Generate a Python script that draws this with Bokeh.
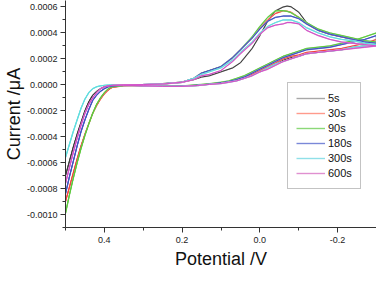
from bokeh.plotting import figure
from bokeh.models import Range1d, FixedTicker, PrintfTickFormatter, Legend, LegendItem
from bokeh.embed import file_html
from bokeh.resources import INLINE

labels = ["5s", "30s", "90s", "180s", "300s", "600s"]
colors = ["#3a3a3a", "#f04040", "#5cc83c", "#4050c0", "#60dede", "#d050c8"]
legend_colors = ["#a8a8a8", "#ff9a8c", "#8cd878", "#7a88d8", "#90e0e8", "#e090d0"]

# steep cathodic region near +0.5 V
x_left = [0.50, 0.49, 0.48, 0.47, 0.46, 0.45, 0.44, 0.43, 0.42, 0.41, 0.40, 0.39, 0.38]
left_5s = [-0.00070, -0.00059, -0.00048, -0.00038, -0.00029, -0.00020, -0.00013, -0.00008, -0.00005, -0.00003, -0.000015, -0.000008, -0.000004]
left_30s = [-0.00090, -0.00079, -0.00068, -0.00057, -0.00047, -0.00038, -0.00030, -0.00022, -0.00016, -0.00011, -0.00007, -0.00004, -0.00002]
left_90s = [-0.00099, -0.00085, -0.00072, -0.00060, -0.00049, -0.00039, -0.00030, -0.00022, -0.00015, -0.00010, -0.00006, -0.00003, -0.000015]
left_180s = [-0.00084, -0.00071, -0.00059, -0.00047, -0.00036, -0.00027, -0.00019, -0.00012, -0.00008, -0.00005, -0.00003, -0.000015, -0.000008]
left_300s = [-0.00056, -0.00046, -0.00036, -0.00027, -0.00018, -0.00011, -0.00006, -0.00003, -0.000015, -0.000008, -0.000004, -0.000002, 0.0]
left_600s = [-0.00076, -0.00064, -0.00052, -0.00041, -0.00031, -0.00022, -0.00015, -0.00010, -0.00006, -0.00003, -0.000015, -0.000008, -0.000004]

# branch with the peak
x_up = [0.35, 0.30, 0.25, 0.20, 0.17, 0.15, 0.13, 0.10, 0.07, 0.05, 0.02, 0.0, -0.02, -0.04, -0.06, -0.07, -0.08, -0.10, -0.12, -0.15, -0.18, -0.21, -0.24, -0.27, -0.30]
up_5s = [0.0, 0.000002, 0.000006, 0.00002, 0.00004, 0.00006, 0.00007, 0.00010, 0.00013, 0.00017, 0.00028, 0.00038, 0.00049, 0.00057, 0.00060, 0.000607, 0.000602, 0.00056, 0.00048, 0.00042, 0.00039, 0.00037, 0.00035, 0.00033, 0.00032]
up_30s = [-0.000008, -0.000002, 0.000008, 0.00002, 0.00005, 0.00009, 0.00011, 0.00014, 0.00021, 0.00027, 0.00036, 0.00044, 0.00050, 0.00055, 0.00057, 0.000568, 0.00056, 0.00052, 0.00047, 0.00042, 0.00039, 0.00037, 0.00035, 0.00033, 0.00032]
up_90s = [-0.000006, -0.000001, 0.000008, 0.00002, 0.00005, 0.00009, 0.00011, 0.00014, 0.00021, 0.00027, 0.00037, 0.00045, 0.00052, 0.00057, 0.000572, 0.000566, 0.000556, 0.00052, 0.00048, 0.00043, 0.00040, 0.00038, 0.00036, 0.00034, 0.00033]
up_180s = [-0.000003, 0.000001, 0.000008, 0.00002, 0.00005, 0.00009, 0.00011, 0.00014, 0.00021, 0.00027, 0.00036, 0.00043, 0.00049, 0.00052, 0.00053, 0.00053, 0.00053, 0.00051, 0.00047, 0.00042, 0.00039, 0.00037, 0.00035, 0.00033, 0.00032]
up_300s = [0.0, 0.000002, 0.000007, 0.00002, 0.00005, 0.00008, 0.00010, 0.00013, 0.00019, 0.00025, 0.00033, 0.00040, 0.00045, 0.00048, 0.00050, 0.00050, 0.00050, 0.00048, 0.00044, 0.00040, 0.00037, 0.00035, 0.00034, 0.00032, 0.00031]
up_600s = [0.0, 0.000002, 0.000006, 0.00002, 0.00004, 0.00007, 0.00008, 0.00011, 0.00018, 0.00024, 0.00032, 0.00039, 0.00044, 0.00046, 0.00047, 0.00048, 0.00048, 0.00047, 0.00042, 0.00038, 0.00035, 0.00033, 0.00032, 0.00031, 0.00030]

# return branch
x_low = [-0.30, -0.27, -0.24, -0.21, -0.18, -0.15, -0.12, -0.10, -0.08, -0.06, -0.04, -0.02, 0.0, 0.02, 0.04, 0.06, 0.08, 0.10, 0.13, 0.16, 0.20, 0.25, 0.30, 0.35]
low_5s = [0.00031, 0.00030, 0.00029, 0.00027, 0.00026, 0.00025, 0.00024, 0.00022, 0.00021, 0.00019, 0.00016, 0.00013, 0.00010, 0.00008, 0.00005, 0.00004, 0.000025, 0.000015, 0.000005, -0.000005, -0.000012, -0.000012, -0.000007, -0.000003]
low_30s = [0.00035, 0.00032, 0.00030, 0.00028, 0.00027, 0.00026, 0.00025, 0.00023, 0.00022, 0.00020, 0.00017, 0.00014, 0.00011, 0.00008, 0.00006, 0.00004, 0.000025, 0.000015, 0.000005, -0.000003, -0.00001, -0.000012, -0.000007, -0.000005]
low_90s = [0.00040, 0.00037, 0.00034, 0.00032, 0.00030, 0.00029, 0.00028, 0.00026, 0.00024, 0.00022, 0.00019, 0.00016, 0.00013, 0.00010, 0.00007, 0.00005, 0.00003, 0.00002, 0.000008, 0.0, -0.000008, -0.00001, -0.000006, -0.000003]
low_180s = [0.00038, 0.00035, 0.00033, 0.00031, 0.00029, 0.00028, 0.00027, 0.00025, 0.00023, 0.00021, 0.00018, 0.00015, 0.00012, 0.00009, 0.00006, 0.00004, 0.000025, 0.000015, 0.000005, -0.000003, -0.00001, -0.000012, -0.000007, -0.000003]
low_300s = [0.00031, 0.00030, 0.00029, 0.00027, 0.00026, 0.00025, 0.00024, 0.00022, 0.00020, 0.00018, 0.00016, 0.00013, 0.00010, 0.00007, 0.00005, 0.00003, 0.00002, 0.00001, 0.000003, -0.000005, -0.000012, -0.000012, -0.000006, -0.000002]
low_600s = [0.00030, 0.00029, 0.00028, 0.00027, 0.00026, 0.00025, 0.00024, 0.00022, 0.00020, 0.00018, 0.00015, 0.00012, 0.00010, 0.00007, 0.00005, 0.00003, 0.00002, 0.00001, 0.000003, -0.000005, -0.000012, -0.000012, -0.000007, -0.000004]

x_major = [0.4, 0.2, 0.0, -0.2]
x_minor = [0.5, 0.3, 0.1, -0.1, -0.3]
y_major = [-0.0010, -0.0008, -0.0006, -0.0004, -0.0002, 0.0, 0.0002, 0.0004, 0.0006]
y_minor = [-0.0011, -0.0009, -0.0007, -0.0005, -0.0003, -0.0001, 0.0001, 0.0003, 0.0005]
x_title = "Potential /V"
y_title = "Current /\u03bcA"

lefts = [left_5s, left_30s, left_90s, left_180s, left_300s, left_600s]
ups = [up_5s, up_30s, up_90s, up_180s, up_300s, up_600s]
lows = [low_5s, low_30s, low_90s, low_180s, low_300s, low_600s]

FONT = "Liberation Sans"

p = figure(width=376, height=271, x_range=Range1d(0.5, -0.3), y_range=Range1d(-0.0011, 0.00065),
           output_backend="svg", toolbar_location=None,
           min_border_left=50, min_border_right=0, min_border_top=0, min_border_bottom=30)
p.outline_line_color = None
p.grid.visible = False
p.background_fill_color = "white"

for ax in (p.xaxis[0], p.yaxis[0]):
    ax.axis_line_color = "#333333"
    ax.major_tick_line_color = "#333333"
    ax.minor_tick_line_color = "#333333"
    ax.major_tick_out = 5
    ax.major_tick_in = 0
    ax.minor_tick_out = 3
    ax.minor_tick_in = 0
    ax.major_label_text_font = FONT
    ax.major_label_text_font_size = "9px"
    ax.major_label_text_color = "#222222"
    ax.axis_label_text_font = FONT
    ax.axis_label_text_font_size = "18px"
    ax.axis_label_text_font_style = "normal"
    ax.axis_label_text_color = "#111111"

p.xaxis[0].ticker = FixedTicker(ticks=x_major, minor_ticks=x_minor)
p.xaxis[0].formatter = PrintfTickFormatter(format="%.1f")
p.xaxis[0].axis_label = x_title
p.xaxis[0].major_label_standoff = 4
p.xaxis[0].axis_label_standoff = 3

p.yaxis[0].ticker = FixedTicker(ticks=y_major, minor_ticks=y_minor)
p.yaxis[0].formatter = PrintfTickFormatter(format="%.4f")
p.yaxis[0].axis_label = y_title
p.yaxis[0].major_label_standoff = 3
p.yaxis[0].axis_label_standoff = 0

items = []
for lab, col, lcol, yl, yu, yw in zip(labels, colors, legend_colors, lefts, ups, lows):
    xs = x_left + x_up + x_low + x_left[::-1]
    ys = yl + yu + yw + yl[::-1]
    under = p.line(xs, ys, line_color=lcol, line_width=1.4)
    p.line(xs, ys, line_color=col, line_width=1)
    items.append(LegendItem(label=lab, renderers=[under]))

legend = Legend(items=items, location=(222, 38))
legend.border_line_color = "#888888"
legend.border_line_width = 1
legend.background_fill_color = "white"
legend.background_fill_alpha = 1.0
legend.label_text_font = FONT
legend.label_text_font_size = "11px"
legend.label_text_color = "#111111"
legend.glyph_width = 29
legend.glyph_height = 14
legend.label_height = 14
legend.label_width = 10
legend.label_standoff = 3
legend.spacing = 1
legend.padding = 8
legend.margin = 0
p.add_layout(legend)

open("out.html", "w").write(file_html(p, INLINE))
